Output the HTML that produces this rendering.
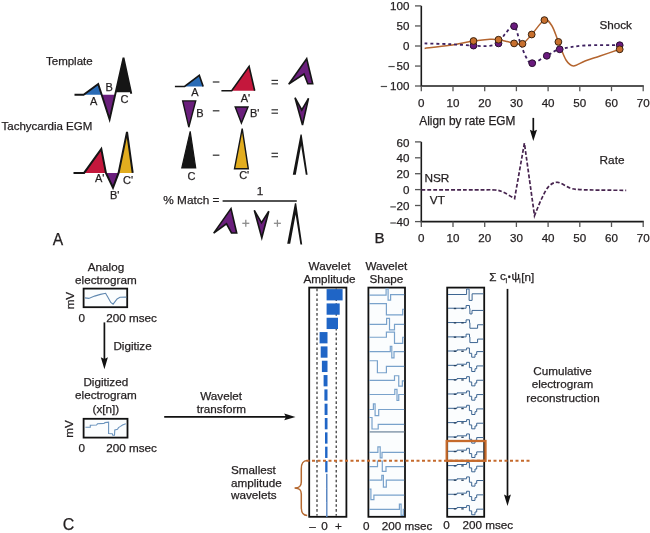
<!DOCTYPE html>
<html><head><meta charset="utf-8"><style>
html,body{margin:0;padding:0;background:#fff;}
body{width:650px;height:533px;overflow:hidden;}
svg{display:block;font-family:"Liberation Sans", sans-serif;will-change:transform;}
text{stroke:#231f20;stroke-width:0.25px;}
</style></head><body>
<svg width="650" height="533" viewBox="0 0 650 533">
<rect x="0" y="0" width="650" height="533" fill="#ffffff"/>
<polygon points="83.60,94.70 98.20,84.00 101.70,94.70" fill="#2a6bb6" stroke="none" stroke-width="1" />
<polygon points="101.70,94.70 109.60,119.40 115.10,94.70" fill="#6a1f7c" stroke="none" stroke-width="1" />
<polygon points="115.80,92.30 123.50,57.80 131.00,92.30" fill="#151515" stroke="none" stroke-width="1" />
<polyline points="74.50,94.70 83.60,94.70 98.20,84.00 109.60,119.40 123.50,57.80 131.30,93.80" fill="none" stroke="#151515" stroke-width="1.9" stroke-linejoin="miter"/>
<text x="46.00" y="64.80" font-size="11.5" text-anchor="start" fill="#231f20" >Template</text>
<text x="1.50" y="130.00" font-size="11.5" text-anchor="start" fill="#231f20" >Tachycardia EGM</text>
<text x="90.00" y="105.00" font-size="11.0" text-anchor="start" fill="#231f20" >A</text>
<text x="105.60" y="90.60" font-size="11.0" text-anchor="start" fill="#231f20" >B</text>
<text x="120.60" y="103.00" font-size="11.0" text-anchor="start" fill="#231f20" >C</text>
<polygon points="84.10,172.90 101.30,148.90 105.90,172.90" fill="#c4173c" stroke="none" stroke-width="1" />
<polygon points="105.90,172.90 113.00,187.70 118.60,172.90" fill="#6a1f7c" stroke="none" stroke-width="1" />
<polygon points="118.60,172.90 127.00,132.00 132.70,172.90" fill="#e2ad1f" stroke="none" stroke-width="1" />
<polyline points="73.50,172.90 84.10,172.90 101.30,148.90 105.90,172.90 113.00,187.70 118.60,172.90 127.00,132.00 132.70,172.90" fill="none" stroke="#151515" stroke-width="2.0" />
<text x="95.00" y="181.50" font-size="11.0" text-anchor="start" fill="#231f20" >A'</text>
<text x="110.00" y="198.80" font-size="11.0" text-anchor="start" fill="#231f20" >B'</text>
<text x="123.00" y="183.80" font-size="11.0" text-anchor="start" fill="#231f20" >C'</text>
<polygon points="184.60,86.50 199.30,75.40 203.20,86.50" fill="#2a6bb6" stroke="none" stroke-width="1" />
<polyline points="174.90,86.50 184.60,86.50 199.30,75.40 203.20,86.50" fill="none" stroke="#151515" stroke-width="1.6" />
<text x="194.90" y="96.20" font-size="11.0" text-anchor="middle" fill="#231f20" >A</text>
<line x1="212.80" y1="82.00" x2="219.40" y2="82.00" stroke="#3a3a3a" stroke-width="1.3" />
<polygon points="231.70,90.70 249.10,66.30 254.70,90.70" fill="#c4173c" stroke="none" stroke-width="1" />
<polyline points="221.40,90.70 231.70,90.70 249.10,66.30 254.70,90.70" fill="none" stroke="#151515" stroke-width="1.6" />
<text x="245.50" y="101.80" font-size="11.0" text-anchor="middle" fill="#231f20" >A'</text>
<line x1="271.50" y1="80.40" x2="278.00" y2="80.40" stroke="#333" stroke-width="1.2" />
<line x1="271.50" y1="83.80" x2="278.00" y2="83.80" stroke="#333" stroke-width="1.2" />
<polygon points="288.70,84.20 306.70,58.70 312.70,83.80 307.80,83.80 304.00,74.00" fill="#6a1f7c" stroke="#151515" stroke-width="1.6" stroke-linejoin="miter"/>
<polygon points="182.70,100.90 195.70,100.90 188.80,127.20" fill="#6a1f7c" stroke="#151515" stroke-width="1.4" />
<text x="199.80" y="117.00" font-size="11.0" text-anchor="middle" fill="#231f20" >B</text>
<line x1="212.80" y1="110.80" x2="219.40" y2="110.80" stroke="#3a3a3a" stroke-width="1.3" />
<polygon points="235.20,107.00 248.00,107.00 241.40,123.00" fill="#6a1f7c" stroke="#151515" stroke-width="1.4" />
<text x="254.70" y="117.00" font-size="11.0" text-anchor="middle" fill="#231f20" >B'</text>
<line x1="271.50" y1="109.80" x2="278.00" y2="109.80" stroke="#333" stroke-width="1.2" />
<line x1="271.50" y1="113.20" x2="278.00" y2="113.20" stroke="#333" stroke-width="1.2" />
<polygon points="295.00,97.70 301.80,110.00 308.50,98.30 302.50,125.00" fill="#6a1f7c" stroke="#151515" stroke-width="1.6" />
<polygon points="181.80,168.00 195.70,168.00 190.20,131.40" fill="#151515" stroke="#151515" stroke-width="1.2" />
<text x="191.50" y="179.80" font-size="11.0" text-anchor="middle" fill="#231f20" >C</text>
<line x1="212.80" y1="155.20" x2="219.40" y2="155.20" stroke="#3a3a3a" stroke-width="1.3" />
<polygon points="234.50,168.80 248.30,168.80 242.20,128.60" fill="#e2ad1f" stroke="#151515" stroke-width="1.4" />
<text x="244.20" y="179.30" font-size="11.0" text-anchor="middle" fill="#231f20" >C'</text>
<line x1="271.50" y1="153.30" x2="278.00" y2="153.30" stroke="#333" stroke-width="1.2" />
<line x1="271.50" y1="156.70" x2="278.00" y2="156.70" stroke="#333" stroke-width="1.2" />
<polygon points="292.80,174.70 300.50,134.40 301.70,134.40 307.60,174.70 305.80,174.70 301.10,145.50 295.80,174.70" fill="#151515" stroke="none" stroke-width="1" />
<text x="163.30" y="204.00" font-size="11.8" text-anchor="start" fill="#231f20" >% Match =</text>
<line x1="222.60" y1="201.00" x2="296.80" y2="201.00" stroke="#1a1a1a" stroke-width="1.7" />
<text x="260.00" y="194.60" font-size="11.8" text-anchor="middle" fill="#231f20" >1</text>
<polygon points="213.70,233.10 231.00,208.60 236.70,233.00 231.50,233.00 226.50,223.80" fill="#6a1f7c" stroke="#151515" stroke-width="1.6" stroke-linejoin="miter"/>
<line x1="242.30" y1="223.30" x2="249.30" y2="223.30" stroke="#8c8c8c" stroke-width="1.3" />
<line x1="245.80" y1="219.80" x2="245.80" y2="226.80" stroke="#8c8c8c" stroke-width="1.3" />
<polygon points="254.30,210.30 261.50,222.60 268.80,211.20 261.80,237.80" fill="#6a1f7c" stroke="#151515" stroke-width="1.6" />
<line x1="273.90" y1="223.30" x2="280.90" y2="223.30" stroke="#8c8c8c" stroke-width="1.3" />
<line x1="277.40" y1="219.80" x2="277.40" y2="226.80" stroke="#8c8c8c" stroke-width="1.3" />
<polygon points="287.20,243.80 294.90,203.30 296.20,203.30 302.20,244.60 300.40,244.60 295.60,214.50 290.20,243.80" fill="#151515" stroke="none" stroke-width="1" />
<text x="52.80" y="244.80" font-size="15.6" text-anchor="start" fill="#231f20" >A</text>
<line x1="421.30" y1="5.90" x2="421.30" y2="86.00" stroke="#1a1a1a" stroke-width="1.6" />
<line x1="420.50" y1="86.00" x2="643.80" y2="86.00" stroke="#1a1a1a" stroke-width="1.6" />
<line x1="415.00" y1="5.90" x2="421.30" y2="5.90" stroke="#555" stroke-width="1.3" />
<text x="409.40" y="10.00" font-size="11.6" text-anchor="end" fill="#231f20" >100</text>
<line x1="415.00" y1="25.95" x2="421.30" y2="25.95" stroke="#555" stroke-width="1.3" />
<text x="409.40" y="30.05" font-size="11.6" text-anchor="end" fill="#231f20" >50</text>
<line x1="415.00" y1="46.00" x2="421.30" y2="46.00" stroke="#555" stroke-width="1.3" />
<text x="409.40" y="50.10" font-size="11.6" text-anchor="end" fill="#231f20" >0</text>
<line x1="415.00" y1="66.05" x2="421.30" y2="66.05" stroke="#555" stroke-width="1.3" />
<text x="409.40" y="70.15" font-size="11.6" text-anchor="end" fill="#231f20" >50</text>
<line x1="388.40" y1="66.55" x2="394.70" y2="66.55" stroke="#4a4a4a" stroke-width="1.2" />
<line x1="415.00" y1="86.00" x2="421.30" y2="86.00" stroke="#555" stroke-width="1.3" />
<text x="409.40" y="90.10" font-size="11.6" text-anchor="end" fill="#231f20" >100</text>
<line x1="380.75" y1="86.50" x2="387.05" y2="86.50" stroke="#4a4a4a" stroke-width="1.2" />
<line x1="421.30" y1="86.00" x2="421.30" y2="91.20" stroke="#555" stroke-width="1.3" />
<text x="421.30" y="106.80" font-size="11.6" text-anchor="middle" fill="#231f20" >0</text>
<line x1="453.00" y1="86.00" x2="453.00" y2="91.20" stroke="#555" stroke-width="1.3" />
<text x="453.00" y="106.80" font-size="11.6" text-anchor="middle" fill="#231f20" >10</text>
<line x1="484.70" y1="86.00" x2="484.70" y2="91.20" stroke="#555" stroke-width="1.3" />
<text x="484.70" y="106.80" font-size="11.6" text-anchor="middle" fill="#231f20" >20</text>
<line x1="516.40" y1="86.00" x2="516.40" y2="91.20" stroke="#555" stroke-width="1.3" />
<text x="516.40" y="106.80" font-size="11.6" text-anchor="middle" fill="#231f20" >30</text>
<line x1="548.10" y1="86.00" x2="548.10" y2="91.20" stroke="#555" stroke-width="1.3" />
<text x="548.10" y="106.80" font-size="11.6" text-anchor="middle" fill="#231f20" >40</text>
<line x1="579.80" y1="86.00" x2="579.80" y2="91.20" stroke="#555" stroke-width="1.3" />
<text x="579.80" y="106.80" font-size="11.6" text-anchor="middle" fill="#231f20" >50</text>
<line x1="611.50" y1="86.00" x2="611.50" y2="91.20" stroke="#555" stroke-width="1.3" />
<text x="611.50" y="106.80" font-size="11.6" text-anchor="middle" fill="#231f20" >60</text>
<line x1="643.20" y1="86.00" x2="643.20" y2="91.20" stroke="#555" stroke-width="1.3" />
<text x="643.20" y="106.80" font-size="11.6" text-anchor="middle" fill="#231f20" >70</text>
<path d="M424.60,48.40 C428.83,47.87 441.85,46.43 450.00,45.20 C458.15,43.97 466.83,42.00 473.50,41.00 C480.17,40.00 485.83,39.42 490.00,39.20 C494.17,38.98 495.67,39.32 498.50,39.70 C501.33,40.08 504.40,40.88 507.00,41.50 C509.60,42.12 511.52,43.02 514.10,43.40 C516.68,43.78 519.57,45.28 522.50,43.80 C525.43,42.32 528.05,38.45 531.70,34.50 C535.35,30.55 541.02,21.52 544.40,20.10 C547.78,18.68 549.67,22.37 552.00,26.00 C554.33,29.63 556.07,36.23 558.40,41.90 C560.73,47.57 563.48,56.00 566.00,60.00 C568.52,64.00 570.33,65.73 573.50,65.90 C576.67,66.07 580.58,62.65 585.00,61.00 C589.42,59.35 594.22,57.95 600.00,56.00 C605.78,54.05 616.42,50.42 619.70,49.30" fill="none" stroke="#b4652f" stroke-width="1.5"/>
<path d="M424.60,43.40 C428.83,43.53 441.85,43.83 450.00,44.20 C458.15,44.57 467.33,45.30 473.50,45.60 C479.67,45.90 482.83,46.37 487.00,46.00 C491.17,45.63 495.50,45.40 498.50,43.40 C501.50,41.40 502.40,36.87 505.00,34.00 C507.60,31.13 511.60,24.87 514.10,26.20 C516.60,27.53 518.02,36.87 520.00,42.00 C521.98,47.13 523.97,53.47 526.00,57.00 C528.03,60.53 528.73,63.40 532.20,63.20 C535.67,63.00 542.22,58.12 546.80,55.80 C551.38,53.48 553.33,51.02 559.70,49.30 C566.07,47.58 575.00,46.18 585.00,45.50 C595.00,44.82 613.92,45.25 619.70,45.20" fill="none" stroke="#3e2160" stroke-width="1.8" stroke-dasharray="3.0,2.9"/>
<circle cx="473.5" cy="45.6" r="3.4" fill="#6a1b7e" stroke="#2a1030" stroke-width="1.0"/>
<circle cx="498.5" cy="43.4" r="3.4" fill="#6a1b7e" stroke="#2a1030" stroke-width="1.0"/>
<circle cx="514.1" cy="26.2" r="3.4" fill="#6a1b7e" stroke="#2a1030" stroke-width="1.0"/>
<circle cx="532.2" cy="63.2" r="3.4" fill="#6a1b7e" stroke="#2a1030" stroke-width="1.0"/>
<circle cx="546.8" cy="55.8" r="3.4" fill="#6a1b7e" stroke="#2a1030" stroke-width="1.0"/>
<circle cx="559.7" cy="49.3" r="3.4" fill="#6a1b7e" stroke="#2a1030" stroke-width="1.0"/>
<circle cx="619.7" cy="45.2" r="3.4" fill="#6a1b7e" stroke="#2a1030" stroke-width="1.0"/>
<circle cx="473.5" cy="41" r="3.4" fill="#c8702e" stroke="#3a2310" stroke-width="1.0"/>
<circle cx="498.5" cy="39.7" r="3.4" fill="#c8702e" stroke="#3a2310" stroke-width="1.0"/>
<circle cx="514.1" cy="43.4" r="3.4" fill="#c8702e" stroke="#3a2310" stroke-width="1.0"/>
<circle cx="522.5" cy="43.8" r="3.4" fill="#c8702e" stroke="#3a2310" stroke-width="1.0"/>
<circle cx="531.7" cy="34.5" r="3.4" fill="#c8702e" stroke="#3a2310" stroke-width="1.0"/>
<circle cx="544.4" cy="20.1" r="3.4" fill="#c8702e" stroke="#3a2310" stroke-width="1.0"/>
<circle cx="558.4" cy="41.9" r="3.4" fill="#c8702e" stroke="#3a2310" stroke-width="1.0"/>
<circle cx="619.7" cy="49.3" r="3.4" fill="#c8702e" stroke="#3a2310" stroke-width="1.0"/>
<text x="599.40" y="29.20" font-size="11.7" text-anchor="start" fill="#231f20" >Shock</text>
<text x="419.30" y="125.00" font-size="11.85" text-anchor="start" fill="#231f20" >Align by rate EGM</text>
<line x1="533.30" y1="117.90" x2="533.30" y2="132.00" stroke="#111" stroke-width="1.7" />
<polygon points="529.90,129.80 533.30,131.30 537.00,129.80 533.30,141.00" fill="#111" stroke="none" stroke-width="1" />
<line x1="421.30" y1="141.90" x2="421.30" y2="221.60" stroke="#1a1a1a" stroke-width="1.6" />
<line x1="420.50" y1="221.60" x2="643.80" y2="221.60" stroke="#1a1a1a" stroke-width="1.6" />
<line x1="415.00" y1="141.90" x2="421.30" y2="141.90" stroke="#555" stroke-width="1.3" />
<text x="409.40" y="146.50" font-size="11.6" text-anchor="end" fill="#231f20" >60</text>
<line x1="415.00" y1="157.80" x2="421.30" y2="157.80" stroke="#555" stroke-width="1.3" />
<text x="409.40" y="162.40" font-size="11.6" text-anchor="end" fill="#231f20" >40</text>
<line x1="415.00" y1="173.70" x2="421.30" y2="173.70" stroke="#555" stroke-width="1.3" />
<text x="409.40" y="178.30" font-size="11.6" text-anchor="end" fill="#231f20" >20</text>
<line x1="415.00" y1="189.60" x2="421.30" y2="189.60" stroke="#555" stroke-width="1.3" />
<text x="409.40" y="194.20" font-size="11.6" text-anchor="end" fill="#231f20" >0</text>
<line x1="415.00" y1="205.50" x2="421.30" y2="205.50" stroke="#555" stroke-width="1.3" />
<text x="409.40" y="210.10" font-size="11.6" text-anchor="end" fill="#231f20" >20</text>
<line x1="390.30" y1="206.90" x2="395.90" y2="206.90" stroke="#4a4a4a" stroke-width="1.2" />
<line x1="415.00" y1="221.60" x2="421.30" y2="221.60" stroke="#555" stroke-width="1.3" />
<text x="409.40" y="226.20" font-size="11.6" text-anchor="end" fill="#231f20" >40</text>
<line x1="390.30" y1="223.00" x2="395.90" y2="223.00" stroke="#4a4a4a" stroke-width="1.2" />
<line x1="421.30" y1="221.60" x2="421.30" y2="227.00" stroke="#555" stroke-width="1.3" />
<text x="421.30" y="242.00" font-size="11.6" text-anchor="middle" fill="#231f20" >0</text>
<line x1="453.00" y1="221.60" x2="453.00" y2="227.00" stroke="#555" stroke-width="1.3" />
<text x="453.00" y="242.00" font-size="11.6" text-anchor="middle" fill="#231f20" >10</text>
<line x1="484.70" y1="221.60" x2="484.70" y2="227.00" stroke="#555" stroke-width="1.3" />
<text x="484.70" y="242.00" font-size="11.6" text-anchor="middle" fill="#231f20" >20</text>
<line x1="516.40" y1="221.60" x2="516.40" y2="227.00" stroke="#555" stroke-width="1.3" />
<text x="516.40" y="242.00" font-size="11.6" text-anchor="middle" fill="#231f20" >30</text>
<line x1="548.10" y1="221.60" x2="548.10" y2="227.00" stroke="#555" stroke-width="1.3" />
<text x="548.10" y="242.00" font-size="11.6" text-anchor="middle" fill="#231f20" >40</text>
<line x1="579.80" y1="221.60" x2="579.80" y2="227.00" stroke="#555" stroke-width="1.3" />
<text x="579.80" y="242.00" font-size="11.6" text-anchor="middle" fill="#231f20" >50</text>
<line x1="611.50" y1="221.60" x2="611.50" y2="227.00" stroke="#555" stroke-width="1.3" />
<text x="611.50" y="242.00" font-size="11.6" text-anchor="middle" fill="#231f20" >60</text>
<line x1="643.20" y1="221.60" x2="643.20" y2="227.00" stroke="#555" stroke-width="1.3" />
<text x="643.20" y="242.00" font-size="11.6" text-anchor="middle" fill="#231f20" >70</text>
<path d="M421.50,189.80 C431.25,189.80 467.75,189.77 480.00,189.80 C492.25,189.83 491.13,189.62 495.00,190.00 C498.87,190.38 499.93,190.67 503.20,192.10 C506.47,193.53 512.70,197.52 514.60,198.60 L524.4,143.2 L534.5,215.7 C535.67,212.92 539.12,203.88 541.50,199.00 C543.88,194.12 546.08,189.18 548.80,186.40 C551.52,183.62 554.27,182.03 557.80,182.30 C561.33,182.57 566.33,186.78 570.00,188.00 C573.67,189.22 574.80,189.25 579.80,189.60 C584.80,189.95 592.27,189.98 600.00,190.10 C607.73,190.22 621.83,190.27 626.20,190.30" fill="none" stroke="#47244f" stroke-width="1.7" stroke-dasharray="3.9,2.0" stroke-linejoin="miter"/>
<text x="424.40" y="182.30" font-size="11.8" text-anchor="start" fill="#231f20" >NSR</text>
<text x="429.80" y="203.50" font-size="11.8" text-anchor="start" fill="#231f20" >VT</text>
<text x="599.60" y="163.50" font-size="11.8" text-anchor="start" fill="#231f20" >Rate</text>
<text x="374.60" y="242.60" font-size="15.2" text-anchor="start" fill="#231f20" >B</text>
<text x="106.00" y="270.90" font-size="11.7" text-anchor="middle" fill="#231f20" >Analog</text>
<text x="105.90" y="284.40" font-size="11.7" text-anchor="middle" fill="#231f20" >electrogram</text>
<rect x="83.60" y="288.60" width="43.60" height="18.60" fill="#fbfdfe" stroke="#111" stroke-width="1.8" />
<polyline points="85.00,297.90 88.80,298.40 94.60,296.10 100.40,294.40 105.60,293.30 107.90,297.30 110.80,302.50 113.10,304.20 117.10,299.00 120.00,297.30 126.30,297.10" fill="none" stroke="#6088b0" stroke-width="1.1" />
<text x="0.00" y="0.00" font-size="11.7" text-anchor="middle" fill="#231f20" transform="translate(73.8,300.6) rotate(-90)">mV</text>
<text x="81.80" y="321.70" font-size="11.7" text-anchor="middle" fill="#231f20" >0</text>
<text x="106.30" y="321.70" font-size="11.7" text-anchor="start" fill="#231f20" >200 msec</text>
<line x1="104.40" y1="322.40" x2="104.40" y2="360.00" stroke="#111" stroke-width="1.7" />
<polygon points="100.80,357.30 104.40,359.00 107.90,357.30 104.40,369.30" fill="#111" stroke="none" stroke-width="1" />
<text x="113.40" y="349.80" font-size="11.7" text-anchor="start" fill="#231f20" >Digitize</text>
<text x="105.80" y="386.20" font-size="11.7" text-anchor="middle" fill="#231f20" >Digitized</text>
<text x="105.90" y="398.90" font-size="11.7" text-anchor="middle" fill="#231f20" >electrogram</text>
<text x="105.90" y="412.80" font-size="11.7" text-anchor="middle" fill="#231f20" >(x[n])</text>
<rect x="83.60" y="418.80" width="43.90" height="18.80" fill="#fbfdfe" stroke="#111" stroke-width="1.8" />
<polyline points="85.40,427.20 90.30,427.20 90.30,425.30 96.50,425.00 97.50,423.80 104.00,423.40 105.00,422.60 108.60,422.20 108.60,433.50 112.30,433.70 112.80,435.30 114.50,435.30 114.80,430.00 117.50,429.20 118.50,427.60 120.50,426.40 122.50,425.00 125.80,423.80" fill="none" stroke="#6a93bd" stroke-width="1.1" />
<text x="0.00" y="0.00" font-size="11.7" text-anchor="middle" fill="#231f20" transform="translate(73.2,428.9) rotate(-90)">mV</text>
<text x="81.80" y="452.30" font-size="11.7" text-anchor="middle" fill="#231f20" >0</text>
<text x="106.30" y="452.30" font-size="11.7" text-anchor="start" fill="#231f20" >200 msec</text>
<text x="62.80" y="529.80" font-size="16" text-anchor="start" fill="#231f20" >C</text>
<line x1="164.20" y1="416.90" x2="286.00" y2="416.90" stroke="#111" stroke-width="1.7" />
<polygon points="284.20,413.50 286.00,417.00 284.20,420.30 295.50,416.90" fill="#111" stroke="none" stroke-width="1" />
<text x="221.10" y="399.70" font-size="11.7" text-anchor="middle" fill="#231f20" >Wavelet</text>
<text x="221.40" y="412.70" font-size="11.7" text-anchor="middle" fill="#231f20" >transform</text>
<rect x="309.20" y="287.60" width="37.20" height="229.20" fill="#ffffff" stroke="#111" stroke-width="1.8" />
<rect x="368.40" y="287.60" width="36.60" height="229.20" fill="#fbfdfe" stroke="#111" stroke-width="1.8" />
<rect x="447.20" y="287.60" width="37.00" height="229.20" fill="#fbfdfe" stroke="#111" stroke-width="1.8" />
<line x1="317.00" y1="288.60" x2="317.00" y2="515.80" stroke="#1e1e1e" stroke-width="1.1" stroke-dasharray="2.6,2.3"/>
<line x1="336.20" y1="288.60" x2="336.20" y2="515.80" stroke="#1e1e1e" stroke-width="1.1" stroke-dasharray="2.6,2.3"/>
<text x="329.50" y="269.60" font-size="11.7" text-anchor="middle" fill="#231f20" >Wavelet</text>
<text x="329.50" y="282.80" font-size="11.7" text-anchor="middle" fill="#231f20" >Amplitude</text>
<text x="386.30" y="269.60" font-size="11.7" text-anchor="middle" fill="#231f20" >Wavelet</text>
<text x="386.30" y="282.80" font-size="11.7" text-anchor="middle" fill="#231f20" >Shape</text>
<rect x="326.60" y="289.10" width="16.00" height="11.30" fill="#1f65c6" stroke="none" stroke-width="1" />
<rect x="326.60" y="303.43" width="13.10" height="11.30" fill="#1f65c6" stroke="none" stroke-width="1" />
<rect x="326.60" y="317.75" width="11.40" height="11.30" fill="#1f65c6" stroke="none" stroke-width="1" />
<rect x="319.60" y="332.07" width="7.90" height="11.30" fill="#1f65c6" stroke="none" stroke-width="1" />
<rect x="320.70" y="346.40" width="6.80" height="11.30" fill="#1f65c6" stroke="none" stroke-width="1" />
<rect x="321.90" y="360.73" width="5.60" height="11.30" fill="#1f65c6" stroke="none" stroke-width="1" />
<rect x="323.60" y="375.05" width="3.90" height="11.30" fill="#1f65c6" stroke="none" stroke-width="1" />
<rect x="324.40" y="389.38" width="3.10" height="11.30" fill="#1f65c6" stroke="none" stroke-width="1" />
<rect x="324.60" y="403.70" width="2.90" height="11.30" fill="#1f65c6" stroke="none" stroke-width="1" />
<rect x="324.80" y="418.02" width="2.70" height="11.30" fill="#1f65c6" stroke="none" stroke-width="1" />
<rect x="325.00" y="432.35" width="2.50" height="11.30" fill="#1f65c6" stroke="none" stroke-width="1" />
<rect x="325.10" y="446.67" width="2.40" height="11.30" fill="#1f65c6" stroke="none" stroke-width="1" />
<rect x="325.20" y="461.00" width="2.30" height="11.30" fill="#1f65c6" stroke="none" stroke-width="1" />
<rect x="326.00" y="473.82" width="1.50" height="14.52" fill="#5b87c2" stroke="none" stroke-width="1" />
<rect x="326.00" y="488.15" width="1.50" height="14.52" fill="#5b87c2" stroke="none" stroke-width="1" />
<rect x="326.10" y="502.47" width="1.40" height="14.53" fill="#5b87c2" stroke="none" stroke-width="1" />
<polyline points="369.20,295.10 386.10,295.10 386.10,288.90 388.10,288.90 388.10,300.20 390.60,300.20 390.60,294.60 404.20,294.60" fill="none" stroke="#79a2cb" stroke-width="1.2" />
<polyline points="369.20,303.62 386.40,303.62 386.40,314.82 402.70,314.82 402.70,309.23 404.20,309.23" fill="none" stroke="#79a2cb" stroke-width="1.2" />
<polyline points="369.20,324.35 386.60,324.35 386.60,318.45 389.50,318.45 389.50,329.95 394.50,329.95 394.50,324.35 404.20,324.35" fill="none" stroke="#79a2cb" stroke-width="1.2" />
<polyline points="369.20,337.27 386.40,337.27 386.40,332.18 394.50,332.18 394.50,343.47 402.70,343.47 402.70,337.27 404.20,337.27" fill="none" stroke="#79a2cb" stroke-width="1.2" />
<polyline points="369.20,351.70 390.30,351.70 390.30,346.40 391.80,346.40 391.80,357.90 394.00,357.90 394.00,351.70 404.20,351.70" fill="none" stroke="#79a2cb" stroke-width="1.2" />
<polyline points="369.20,360.73 377.40,360.73 377.40,372.73 386.40,372.73 386.40,366.33 404.20,366.33" fill="none" stroke="#79a2cb" stroke-width="1.2" />
<polyline points="369.20,380.45 394.50,380.45 394.50,375.75 398.75,375.75 398.75,386.05 402.35,386.05 402.35,380.95 404.20,380.95" fill="none" stroke="#79a2cb" stroke-width="1.2" />
<polyline points="369.20,394.48 394.80,394.48 394.80,389.38 397.00,389.38 397.00,400.48 398.75,400.48 398.75,394.48 404.20,394.48" fill="none" stroke="#79a2cb" stroke-width="1.2" />
<polyline points="369.20,409.50 373.40,409.50 373.40,403.90 375.10,403.90 375.10,415.70 378.70,415.70 378.70,409.50 404.20,409.50" fill="none" stroke="#79a2cb" stroke-width="1.2" />
<polyline points="369.20,417.52 372.00,417.52 372.00,429.02 378.20,429.02 378.20,424.42 404.20,424.42" fill="none" stroke="#79a2cb" stroke-width="1.2" />
<line x1="369.20" y1="431.85" x2="404.20" y2="431.85" stroke="#98a9b9" stroke-width="1.7" />
<polyline points="369.20,452.47 377.90,452.47 377.90,446.87 380.20,446.87 380.20,457.97 382.00,457.97 382.00,452.47 404.20,452.47" fill="none" stroke="#79a2cb" stroke-width="1.2" />
<polyline points="369.20,466.60 377.50,466.60 377.50,461.00 382.30,461.00 382.30,471.40 386.00,471.40 386.00,466.60 404.20,466.60" fill="none" stroke="#79a2cb" stroke-width="1.2" />
<polyline points="369.20,480.22 381.80,480.22 381.80,475.42 383.40,475.42 383.40,487.22 386.30,487.22 386.30,480.22 404.20,480.22" fill="none" stroke="#79a2cb" stroke-width="1.2" />
<polyline points="369.20,489.15 370.90,489.15 370.90,499.65 373.90,499.65 373.90,495.05 404.20,495.05" fill="none" stroke="#79a2cb" stroke-width="1.2" />
<polyline points="369.20,509.47 399.40,509.47 399.40,504.17 401.10,504.17 401.10,515.38 403.30,515.38 403.30,509.47 404.20,509.47" fill="none" stroke="#79a2cb" stroke-width="1.2" />
<polyline points="448.00,294.50 466.60,294.50 466.60,289.00 469.10,289.00 469.10,300.40 472.10,300.40 472.10,293.80 483.40,293.80" fill="none" stroke="#3c6592" stroke-width="1.0" />
<polyline points="448.00,308.23 466.10,308.23 466.10,305.53 469.50,305.53 469.50,308.43 469.90,308.43 469.90,313.93 472.00,313.93 472.00,310.43 483.40,310.43" fill="none" stroke="#3c6592" stroke-width="1.0" />
<line x1="453.80" y1="308.53" x2="456.20" y2="308.53" stroke="#253f5c" stroke-width="1.3" />
<line x1="461.30" y1="308.53" x2="463.70" y2="308.53" stroke="#253f5c" stroke-width="1.3" />
<polyline points="448.00,322.55 466.10,322.55 466.10,319.85 469.50,319.85 469.50,322.75 469.90,322.75 469.90,328.25 477.60,328.25 477.60,324.75 483.40,324.75" fill="none" stroke="#3c6592" stroke-width="1.0" />
<line x1="453.80" y1="322.85" x2="456.20" y2="322.85" stroke="#253f5c" stroke-width="1.3" />
<line x1="461.30" y1="322.85" x2="463.70" y2="322.85" stroke="#253f5c" stroke-width="1.3" />
<polyline points="448.00,336.88 466.10,336.88 466.10,334.18 469.50,334.18 469.50,337.07 469.90,337.07 469.90,342.57 477.60,342.57 477.60,339.07 483.40,339.07" fill="none" stroke="#3c6592" stroke-width="1.0" />
<line x1="453.80" y1="337.18" x2="456.20" y2="337.18" stroke="#253f5c" stroke-width="1.3" />
<line x1="461.30" y1="337.18" x2="463.70" y2="337.18" stroke="#253f5c" stroke-width="1.3" />
<polyline points="448.00,351.00 457.00,351.00 457.00,349.90 466.60,349.90 466.60,348.00 469.40,348.00 469.40,353.30 471.70,353.30 471.70,357.20 475.00,357.20 475.00,354.40 476.70,354.40 476.70,351.60 483.40,351.60" fill="none" stroke="#3c6592" stroke-width="1.0" />
<line x1="453.80" y1="351.30" x2="456.20" y2="351.30" stroke="#253f5c" stroke-width="1.3" />
<line x1="461.30" y1="351.30" x2="463.70" y2="351.30" stroke="#253f5c" stroke-width="1.3" />
<polyline points="448.00,365.33 457.00,365.33 457.00,364.23 466.60,364.23 466.60,362.33 469.40,362.33 469.40,367.62 471.70,367.62 471.70,371.53 475.00,371.53 475.00,368.73 476.70,368.73 476.70,365.93 483.40,365.93" fill="none" stroke="#3c6592" stroke-width="1.0" />
<line x1="453.80" y1="365.63" x2="456.20" y2="365.63" stroke="#253f5c" stroke-width="1.3" />
<line x1="461.30" y1="365.63" x2="463.70" y2="365.63" stroke="#253f5c" stroke-width="1.3" />
<polyline points="448.00,379.65 457.00,379.65 457.00,378.55 466.60,378.55 466.60,376.65 469.40,376.65 469.40,381.95 471.70,381.95 471.70,385.85 475.00,385.85 475.00,383.05 476.70,383.05 476.70,380.25 483.40,380.25" fill="none" stroke="#3c6592" stroke-width="1.0" />
<line x1="453.80" y1="379.95" x2="456.20" y2="379.95" stroke="#253f5c" stroke-width="1.3" />
<line x1="461.30" y1="379.95" x2="463.70" y2="379.95" stroke="#253f5c" stroke-width="1.3" />
<polyline points="448.00,393.98 457.00,393.98 457.00,392.88 466.60,392.88 466.60,390.98 469.40,390.98 469.40,396.27 471.70,396.27 471.70,400.18 475.00,400.18 475.00,397.38 476.70,397.38 476.70,394.57 483.40,394.57" fill="none" stroke="#3c6592" stroke-width="1.0" />
<line x1="453.80" y1="394.28" x2="456.20" y2="394.28" stroke="#253f5c" stroke-width="1.3" />
<line x1="461.30" y1="394.28" x2="463.70" y2="394.28" stroke="#253f5c" stroke-width="1.3" />
<polyline points="448.00,408.30 457.00,408.30 457.00,407.20 466.60,407.20 466.60,405.30 469.40,405.30 469.40,410.60 471.70,410.60 471.70,414.50 475.00,414.50 475.00,411.70 476.70,411.70 476.70,408.90 483.40,408.90" fill="none" stroke="#3c6592" stroke-width="1.0" />
<line x1="453.80" y1="408.60" x2="456.20" y2="408.60" stroke="#253f5c" stroke-width="1.3" />
<line x1="461.30" y1="408.60" x2="463.70" y2="408.60" stroke="#253f5c" stroke-width="1.3" />
<polyline points="448.00,422.62 457.00,422.62 457.00,421.52 466.60,421.52 466.60,419.62 469.40,419.62 469.40,424.92 471.70,424.92 471.70,428.82 475.00,428.82 475.00,426.02 476.70,426.02 476.70,423.22 483.40,423.22" fill="none" stroke="#3c6592" stroke-width="1.0" />
<line x1="453.80" y1="422.93" x2="456.20" y2="422.93" stroke="#253f5c" stroke-width="1.3" />
<line x1="461.30" y1="422.93" x2="463.70" y2="422.93" stroke="#253f5c" stroke-width="1.3" />
<polyline points="448.00,436.95 457.00,436.95 457.00,435.85 466.60,435.85 466.60,433.95 469.40,433.95 469.40,439.25 471.70,439.25 471.70,443.15 475.00,443.15 475.00,440.35 476.70,440.35 476.70,437.55 483.40,437.55" fill="none" stroke="#3c6592" stroke-width="1.0" />
<line x1="453.80" y1="437.25" x2="456.20" y2="437.25" stroke="#253f5c" stroke-width="1.3" />
<line x1="461.30" y1="437.25" x2="463.70" y2="437.25" stroke="#253f5c" stroke-width="1.3" />
<polyline points="448.00,451.27 457.00,451.27 457.00,450.17 466.60,450.17 466.60,448.27 469.40,448.27 469.40,453.57 471.70,453.57 471.70,457.47 475.00,457.47 475.00,454.67 476.70,454.67 476.70,451.87 483.40,451.87" fill="none" stroke="#3c6592" stroke-width="1.0" />
<line x1="453.80" y1="451.57" x2="456.20" y2="451.57" stroke="#253f5c" stroke-width="1.3" />
<line x1="461.30" y1="451.57" x2="463.70" y2="451.57" stroke="#253f5c" stroke-width="1.3" />
<polyline points="448.00,465.60 457.00,465.60 457.00,464.50 466.60,464.50 466.60,462.60 469.40,462.60 469.40,467.90 471.70,467.90 471.70,471.80 475.00,471.80 475.00,469.00 476.70,469.00 476.70,466.20 483.40,466.20" fill="none" stroke="#3c6592" stroke-width="1.0" />
<line x1="453.80" y1="465.90" x2="456.20" y2="465.90" stroke="#253f5c" stroke-width="1.3" />
<line x1="461.30" y1="465.90" x2="463.70" y2="465.90" stroke="#253f5c" stroke-width="1.3" />
<polyline points="448.00,479.92 457.00,479.92 457.00,478.82 466.60,478.82 466.60,476.92 469.40,476.92 469.40,482.22 471.70,482.22 471.70,486.12 475.00,486.12 475.00,483.32 476.70,483.32 476.70,480.52 483.40,480.52" fill="none" stroke="#3c6592" stroke-width="1.0" />
<line x1="453.80" y1="480.22" x2="456.20" y2="480.22" stroke="#253f5c" stroke-width="1.3" />
<line x1="461.30" y1="480.22" x2="463.70" y2="480.22" stroke="#253f5c" stroke-width="1.3" />
<polyline points="448.00,494.25 457.00,494.25 457.00,493.15 466.60,493.15 466.60,491.25 469.40,491.25 469.40,496.55 471.70,496.55 471.70,500.45 475.00,500.45 475.00,497.65 476.70,497.65 476.70,494.85 483.40,494.85" fill="none" stroke="#3c6592" stroke-width="1.0" />
<line x1="453.80" y1="494.55" x2="456.20" y2="494.55" stroke="#253f5c" stroke-width="1.3" />
<line x1="461.30" y1="494.55" x2="463.70" y2="494.55" stroke="#253f5c" stroke-width="1.3" />
<polyline points="448.00,508.57 457.00,508.57 457.00,507.47 466.60,507.47 466.60,505.57 469.40,505.57 469.40,510.87 471.70,510.87 471.70,514.77 475.00,514.77 475.00,511.97 476.70,511.97 476.70,509.17 483.40,509.17" fill="none" stroke="#3c6592" stroke-width="1.0" />
<line x1="453.80" y1="508.88" x2="456.20" y2="508.88" stroke="#253f5c" stroke-width="1.3" />
<line x1="461.30" y1="508.88" x2="463.70" y2="508.88" stroke="#253f5c" stroke-width="1.3" />
<text x="446.50" y="529.00" font-size="11.7" text-anchor="middle" fill="#231f20" >0</text>
<text x="462.50" y="529.00" font-size="11.7" text-anchor="start" fill="#231f20" >200 msec</text>
<text x="366.30" y="530.00" font-size="11.7" text-anchor="middle" fill="#231f20" >0</text>
<text x="381.80" y="530.00" font-size="11.7" text-anchor="start" fill="#231f20" >200 msec</text>
<text x="312.40" y="530.00" font-size="11.7" text-anchor="middle" fill="#231f20" >&#8211;</text>
<text x="324.50" y="530.00" font-size="11.7" text-anchor="middle" fill="#231f20" >0</text>
<text x="338.30" y="530.00" font-size="11.7" text-anchor="middle" fill="#231f20" >+</text>
<text x="489.20" y="280.60" font-size="11.7" text-anchor="start" fill="#231f20" >&#931;</text>
<text x="500.00" y="280.20" font-size="11.7" text-anchor="start" fill="#231f20" >c</text>
<text x="505.60" y="282.60" font-size="7.5" text-anchor="start" fill="#231f20" >i</text>
<text x="507.80" y="279.80" font-size="8.5" text-anchor="start" fill="#231f20" >&#8226;</text>
<text x="511.60" y="280.20" font-size="11.7" text-anchor="start" fill="#231f20" >&#968;</text>
<text x="518.90" y="282.60" font-size="7.5" text-anchor="start" fill="#231f20" >i</text>
<text x="521.20" y="280.60" font-size="11.7" text-anchor="start" fill="#231f20" >[n]</text>
<line x1="507.50" y1="288.90" x2="507.50" y2="497.00" stroke="#111" stroke-width="1.7" />
<polygon points="504.00,494.60 507.50,496.20 510.90,494.60 507.50,506.00" fill="#111" stroke="none" stroke-width="1" />
<text x="562.50" y="374.80" font-size="11.7" text-anchor="middle" fill="#231f20" >Cumulative</text>
<text x="562.50" y="388.10" font-size="11.7" text-anchor="middle" fill="#231f20" >electrogram</text>
<text x="563.00" y="401.90" font-size="11.7" text-anchor="middle" fill="#231f20" >reconstruction</text>
<line x1="306.50" y1="460.80" x2="529.70" y2="460.80" stroke="#c56a2c" stroke-width="1.9" stroke-dasharray="3,2.5"/>
<rect x="446.70" y="441.00" width="38.80" height="19.80" fill="none" stroke="#c56a2c" stroke-width="2.3" />
<path d="M307.2,460.6 C302.5,460.8 301.3,463.5 301.3,469 L301.3,482 C301.3,486.2 299.5,487.8 294.6,488 C299.5,488.2 301.3,489.8 301.3,494 L301.3,507 C301.3,512.5 302.5,515.3 307.2,515.5" fill="none" stroke="#b5682f" stroke-width="1.5"/>
<text x="231.00" y="473.80" font-size="11.7" text-anchor="start" fill="#231f20" >Smallest</text>
<text x="231.00" y="487.20" font-size="11.7" text-anchor="start" fill="#231f20" >amplitude</text>
<text x="231.00" y="499.40" font-size="11.7" text-anchor="start" fill="#231f20" >wavelets</text>
</svg>
</body></html>
